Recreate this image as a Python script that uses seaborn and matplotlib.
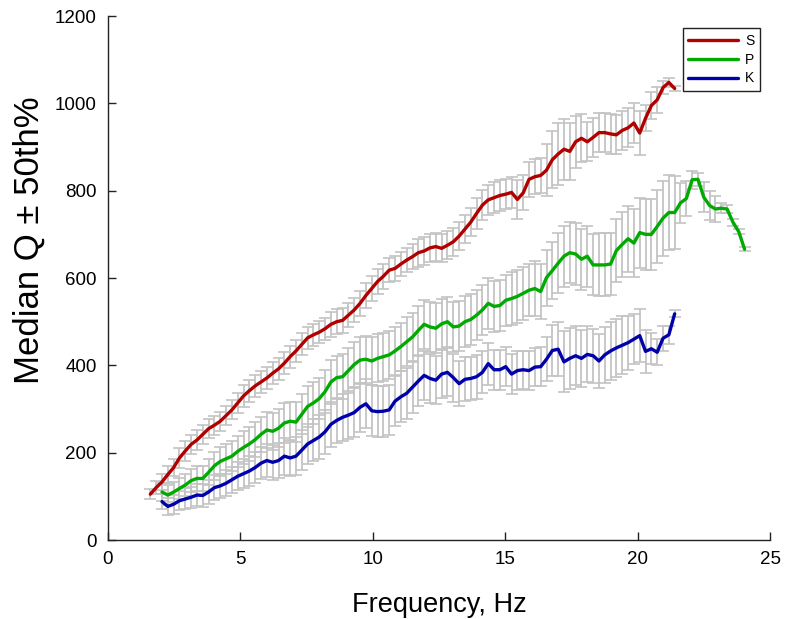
import matplotlib
matplotlib.use("Agg")
import matplotlib.pyplot as plt
from matplotlib.lines import Line2D
import seaborn as sns
import pandas as pd

# Frequency grid (Hz)
FREQ = [1.60, 1.82, 2.04, 2.26, 2.48, 2.70, 2.92, 3.14, 3.36, 3.58,
        3.80, 4.02, 4.24, 4.46, 4.68, 4.90, 5.12, 5.34, 5.56, 5.78,
        6.00, 6.22, 6.44, 6.66, 6.88, 7.10, 7.32, 7.54, 7.76, 7.98,
        8.20, 8.42, 8.64, 8.86, 9.08, 9.30, 9.52, 9.74, 9.96, 10.18,
        10.40, 10.62, 10.84, 11.06, 11.28, 11.50, 11.72, 11.94, 12.16, 12.38,
        12.60, 12.82, 13.04, 13.26, 13.48, 13.70, 13.92, 14.14, 14.36, 14.58,
        14.80, 15.02, 15.24, 15.46, 15.68, 15.90, 16.12, 16.34, 16.56, 16.78,
        17.00, 17.22, 17.44, 17.66, 17.88, 18.10, 18.32, 18.54, 18.76, 18.98,
        19.20, 19.42, 19.64, 19.86, 20.08, 20.30, 20.52, 20.74, 20.96, 21.18,
        21.40, 21.62, 21.84, 22.06, 22.28, 22.50, 22.72, 22.94, 23.16, 23.38,
        23.60, 23.82, 24.04]

SERIES = ["S", "P", "K"]
START = {"S": 0, "P": 2, "K": 2}

S_Q = [105, 120, 133, 150, 166, 188, 204, 219, 229, 242,
       255, 263, 272, 285, 298, 314, 330, 342, 353, 362,
       371, 382, 392, 405, 420, 433, 448, 463, 470, 476,
       484, 494, 500, 503, 515, 527, 542, 560, 576, 592,
       604, 618, 622, 632, 641, 649, 658, 662, 669, 672,
       668, 675, 683, 696, 712, 728, 748, 767, 779, 784,
       789, 792, 796, 780, 795, 826, 832, 835, 847, 871,
       884, 895, 890, 912, 920, 912, 922, 933, 933, 930,
       928, 938, 944, 955, 932, 966, 995, 1008, 1036, 1048,
       1034]
S_ERR = [12, 15, 18, 20, 20, 22, 22, 22, 22, 22,
         22, 22, 22, 22, 22, 22, 25, 25, 25, 25,
         25, 25, 25, 25, 25, 25, 25, 25, 25, 25,
         25, 28, 28, 28, 28, 28, 28, 28, 28, 28,
         28, 28, 28, 28, 28, 28, 32, 32, 32, 32,
         32, 32, 32, 32, 32, 32, 35, 35, 35, 35,
         35, 35, 35, 45, 40, 40, 40, 40, 60, 65,
         70, 70, 65, 60, 55, 45, 45, 45, 45, 45,
         45, 45, 45, 45, 50, 30, 30, 30, 15, 10,
         5]

P_Q = [110, 103, 110, 118, 126, 136, 141, 141, 155,
       170, 180, 186, 192, 203, 212, 220, 230, 242, 252,
       249, 256, 268, 272, 270, 288, 306, 314, 324, 340,
       362, 372, 374, 388, 402, 412, 414, 410, 416, 420,
       424, 433, 443, 454, 465, 480, 494, 488, 485, 495,
       500, 488, 490, 500, 505, 515, 527, 542, 535, 537,
       549, 553, 558, 565, 572, 576, 569, 601, 617, 634,
       650, 658, 655, 643, 650, 630, 630, 630, 632, 663,
       677, 690, 680, 704, 700, 700, 718, 737, 750, 750,
       772, 782, 825, 826, 785, 766, 758, 760, 758, 728,
       706, 666]
P_ERR = [20, 22, 24, 25, 26, 27, 28, 28, 30,
         32, 33, 34, 35, 36, 37, 38, 40, 40, 42,
         42, 44, 45, 45, 46, 46, 47, 48, 48, 50,
         50, 50, 52, 52, 52, 54, 54, 55, 55, 55,
         55, 55, 55, 56, 56, 56, 56, 57, 57, 57,
         57, 58, 58, 58, 58, 58, 58, 58, 58, 58,
         58, 60, 60, 60, 60, 62, 62, 64, 66, 68,
         70, 70, 70, 70, 70, 70, 72, 72, 72, 72,
         74, 76, 78, 80, 82, 82, 84, 86, 86, 84,
         45, 40, 20, 15, 34, 34, 30, 12, 10, 8,
         6, 5]

K_Q = [88, 77, 82, 90, 94, 98, 103, 102, 110,
       120, 124, 130, 138, 146, 152, 158, 166, 176, 182,
       178, 182, 192, 188, 192, 206, 220, 228, 236, 248,
       265, 274, 281, 286, 292, 304, 312, 296, 294, 295,
       298, 318, 328, 336, 350, 364, 377, 370, 366, 380,
       384, 372, 358, 368, 370, 374, 384, 404, 390, 390,
       397, 380, 388, 390, 388, 396, 397, 414, 434, 437,
       408, 416, 422, 416, 425, 422, 410, 424, 433, 440,
       446, 452, 460, 468, 432, 438, 430, 462, 470, 518]
K_ERR = [18, 20, 22, 22, 24, 24, 25, 26, 27,
         28, 28, 30, 30, 32, 33, 34, 35, 36, 38,
         40, 40, 42, 42, 44, 45, 46, 48, 50, 50,
         52, 52, 54, 55, 55, 56, 56, 58, 58, 58,
         58, 58, 58, 58, 58, 58, 56, 56, 55, 55,
         55, 55, 52, 50, 50, 50, 48, 48, 46, 46,
         45, 45, 44, 44, 44, 44, 45, 50, 58, 62,
         70, 70, 68, 66, 64, 62, 62, 64, 66, 66,
         66, 62, 58, 60, 50, 35, 30, 28, 20, 8]

VALUES = {"S": S_Q, "P": P_Q, "K": K_Q}
ERRORS = {"S": S_ERR, "P": P_ERR, "K": K_ERR}
COLORS = {"S": "#b00000", "P": "#00aa00", "K": "#0000aa"}

rows = []
for name in SERIES:
    s = START[name]
    for i, (q, e) in enumerate(zip(VALUES[name], ERRORS[name])):
        rows.append({"Frequency": FREQ[s + i], "Q": q, "err": e, "Phase": name})
df = pd.DataFrame(rows)

sns.set_theme(style="white")
plt.rcParams["font.family"] = ["Liberation Sans", "DejaVu Sans"]
plt.rcParams["text.color"] = "black"
plt.rcParams["axes.labelcolor"] = "black"

fig = plt.figure(figsize=(7.87, 6.19), dpi=100)
ax = fig.add_axes([0.1372, 0.1276, 0.8412, 0.8465])

for name in SERIES:
    sub = df[df["Phase"] == name]
    ax.errorbar(sub["Frequency"], sub["Q"], yerr=sub["err"], fmt="none",
                ecolor="#c4c4c4", elinewidth=1.3, capsize=4.0, capthick=1.2,
                zorder=1)

sns.lineplot(data=df, x="Frequency", y="Q", hue="Phase", hue_order=SERIES,
             palette=COLORS, linewidth=2.4, ax=ax, zorder=3, legend=False)

ax.set_xlim(0, 25)
ax.set_ylim(0, 1200)
ax.set_xticks([0, 5, 10, 15, 20, 25])
ax.set_yticks([0, 200, 400, 600, 800, 1000, 1200])
ax.tick_params(axis="both", direction="in", length=6, width=1, colors="#222222",
               labelsize=13.5, labelcolor="black", pad=8, left=True, bottom=True)
for side in ["top", "right"]:
    ax.spines[side].set_visible(False)
for side in ["left", "bottom"]:
    ax.spines[side].set_color("#222222")
    ax.spines[side].set_linewidth(1.0)

ax.set_xlabel("Frequency, Hz", fontsize=19.5, labelpad=17)
ax.set_ylabel("Median Q \u00b1 50th%", fontsize=25)
ax.yaxis.set_label_coords(-0.094, 0.573)

handles = [Line2D([0], [0], color=COLORS[n], lw=2.4) for n in SERIES]
leg = ax.legend(handles, SERIES, loc="upper right", bbox_to_anchor=(0.985, 0.977),
                borderaxespad=0, fontsize=10, handlelength=3.6, handletextpad=0.5,
                borderpad=0.4, labelspacing=0.35, fancybox=False, framealpha=1,
                edgecolor="#222222")
leg.get_frame().set_linewidth(1.0)

fig.savefig("out.png", dpi=100)
